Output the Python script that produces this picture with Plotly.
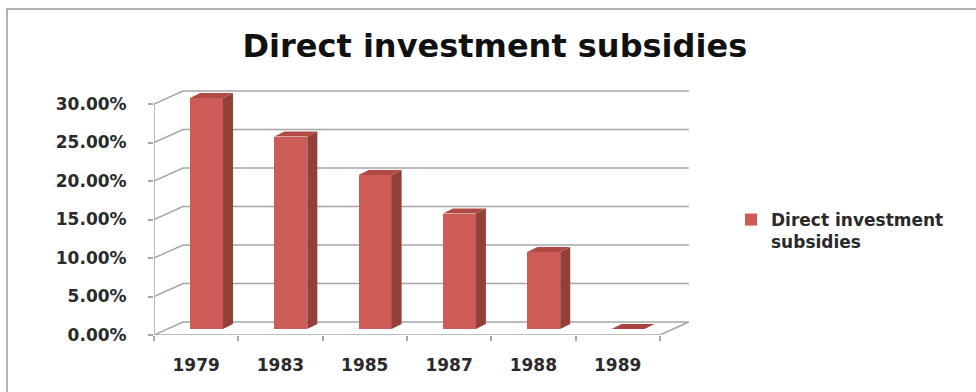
import plotly.graph_objects as go

# ---- data ----
years = ["1979", "1983", "1985", "1987", "1988", "1989"]
subsidy = [0.30, 0.25, 0.20, 0.15, 0.10, 0.0]
y_ticks = [0.0, 0.05, 0.10, 0.15, 0.20, 0.25, 0.30]
series_name = "<b>Direct investment</b><br><b>subsidies</b>"

# ---- pseudo-3D geometry (in axis units) ----
n = len(years)
DX, DY = 0.344, 0.0169        # wall depth offset
F = 0.46                      # bar front position inside the depth
BX, BY = 0.119, 0.0065        # bar depth offset
BAR_L, BAR_W = 0.27, 0.39     # bar front left / width inside a category

FRONT = "#CD5C57"
SIDE = "#93403B"
TOP = "#B04A45"
GRID = "#A6A6A6"
TXT = "#2A2A2A"

fig = go.Figure()

# front faces (real bars)
xc = [i + BAR_L + BAR_W / 2 + F * DX for i in range(n)]
fig.add_trace(go.Bar(
    x=xc, y=subsidy, base=[F * DY] * n, width=BAR_W,
    marker=dict(color=FRONT, line=dict(width=0)),
    name=series_name, showlegend=True,
    hovertext=years,
))

# side and top faces computed from values
for i, v in enumerate(subsidy):
    x0 = i + BAR_L + F * DX
    x1 = x0 + BAR_W
    yb = F * DY
    yt = v + F * DY
    if v > 0:
        fig.add_trace(go.Scatter(
            x=[x1, x1 + BX, x1 + BX, x1, x1],
            y=[yb, yb + BY, yt + BY, yt, yb],
            fill="toself", fillcolor=SIDE, mode="lines",
            line=dict(width=0, color=SIDE), showlegend=False, hoverinfo="skip"))
    fig.add_trace(go.Scatter(
        x=[x0, x1, x1 + BX, x0 + BX, x0],
        y=[yt, yt, yt + BY, yt + BY, yt],
        fill="toself", fillcolor=TOP if v > 0 else "#A8433F", mode="lines",
        line=dict(width=0, color=TOP), showlegend=False, hoverinfo="skip"))

shapes = []
# floor
shapes.append(dict(type="path", layer="below",
                   path=f"M 0,0 L {n},0 L {n + DX},{DY} L {DX},{DY} Z",
                   line=dict(color=GRID, width=1.5), fillcolor="white"))
# back wall gridlines + side connectors
for t in y_ticks[1:]:
    shapes.append(dict(type="path", layer="below",
                       path=f"M 0,{t} L {DX},{t + DY} L {n + DX},{t + DY}",
                       line=dict(color=GRID, width=1.5)))
# front vertical axis line
shapes.append(dict(type="line", layer="below", x0=0, x1=0, y0=0, y1=max(y_ticks),
                   line=dict(color=GRID, width=1.5)))

# outer chart frame (paper coords)
L, R, T, B = 154, 276, 80, 57
W, H = 976, 392
pw, ph = W - L - R, H - T - B
def px(xp): return (xp - L) / pw
def py(yp): return (H - B - yp) / ph
shapes.append(dict(type="path", xref="paper", yref="paper",
                   path=f"M {px(7)},{py(392)} L {px(7)},{py(9)} L {px(976)},{py(9)}",
                   line=dict(color="#9A9A9A", width=1.5)))

x_range = [0, (W - R - L) / 84.3]

fig.update_layout(
    width=W, height=H,
    margin=dict(l=L, r=R, t=T, b=B, pad=0),
    paper_bgcolor="white", plot_bgcolor="white",
    shapes=shapes,
    title=dict(text="<b>Direct investment subsidies</b>", x=0.507, xanchor="center",
               y=1 - 46 / H, yanchor="middle", yref="container",
               font=dict(family="DejaVu Sans", size=32, color="#111111")),
    xaxis=dict(range=x_range, showgrid=False, zeroline=False, showline=False,
               tickvals=[i + 0.5 for i in range(n)], ticktext=[f"<b>{y}</b>" for y in years],
               ticks="", ticklabelstandoff=18,
               tickfont=dict(family="DejaVu Sans", size=17, color=TXT),
               minor=dict(tickvals=list(range(n + 1)), ticks="outside", ticklen=5,
                          tickcolor=GRID, tickwidth=1.5, showgrid=False),
               fixedrange=True),
    yaxis=dict(range=[0, (H - B - T) / 7.7 / 100], showgrid=False, zeroline=False,
               showline=False, tickvals=y_ticks,
               ticktext=[f"<b>{t * 100:.2f}%</b>" for t in y_ticks],
               ticks="outside", ticklen=5, tickcolor=GRID, tickwidth=1.5,
               ticklabelstandoff=18,
               tickfont=dict(family="DejaVu Sans", size=17, color=TXT),
               fixedrange=True),
    legend=dict(x=px(731), y=py(202), xanchor="left", yanchor="top",
                valign="top", bgcolor="rgba(0,0,0,0)",
                font=dict(family="DejaVu Sans", size=17, color=TXT)),
    showlegend=True,
    bargap=0,
)

fig.write_html("out.html")
